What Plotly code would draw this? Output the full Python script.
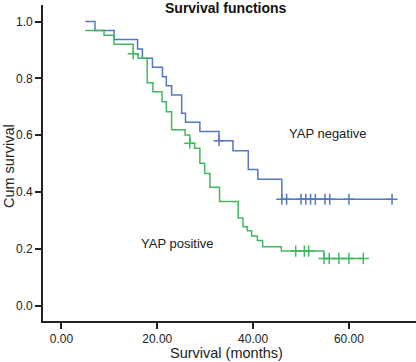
import plotly.graph_objects as go

# --- data ---
neg_times = [5.0, 7.0, 11.0, 15.9, 16.9, 19.0, 21.1, 21.9, 23.0, 25.1, 25.9, 28.9,
             32.9, 35.8, 39.0, 41.0, 46.0, 69.0]
neg_surv = [1.0, 0.968, 0.937, 0.903, 0.871, 0.839, 0.806, 0.774, 0.742, 0.677, 0.646, 0.613,
            0.581, 0.546, 0.480, 0.445, 0.375, 0.375]
neg_censor = [32.9, 46.0, 47.0, 50.0, 51.0, 52.0, 53.0, 55.0, 56.0, 60.0, 69.0]

pos_times = [5.0, 8.9, 11.0, 15.0, 16.0, 17.9, 19.1, 21.0, 21.9, 23.0, 25.8, 26.8, 27.8,
             28.9, 29.9, 31.0, 33.0, 36.9, 37.9, 38.8, 39.7, 40.9, 42.0, 45.9, 54.8, 63.0]
pos_surv = [0.968, 0.952, 0.920, 0.887, 0.871, 0.785, 0.753, 0.718, 0.683, 0.619, 0.601, 0.572,
            0.554, 0.502, 0.466, 0.417, 0.367, 0.309, 0.278, 0.264, 0.246, 0.230, 0.208,
            0.193, 0.167, 0.167]
pos_censor = [15.0, 26.8, 48.9, 50.7, 51.6, 54.8, 55.9, 57.9, 60.0, 63.0]

x_ticks = [0, 20, 40, 60]
x_tick_labels = ["0.00", "20.00", "40.00", "60.00"]
y_ticks = [0.0, 0.2, 0.4, 0.6, 0.8, 1.0]
y_tick_labels = ["0.0", "0.2", "0.4", "0.6", "0.8", "1.0"]

BLUE = "#5577c0"
GREEN = "#40b862"
FONT = "Liberation Sans, Arial, Helvetica, sans-serif"


def step_value(times, surv, t):
    v = surv[0]
    for ti, si in zip(times, surv):
        if ti <= t + 1e-9:
            v = si
    return v


fig = go.Figure()
for times, surv, cens, col in [(neg_times, neg_surv, neg_censor, BLUE),
                               (pos_times, pos_surv, pos_censor, GREEN)]:
    fig.add_trace(go.Scatter(x=times, y=surv, mode="lines", line_shape="hv",
                             line=dict(color=col, width=1.5), showlegend=False,
                             hoverinfo="skip"))
    fig.add_trace(go.Scatter(x=cens, y=[step_value(times, surv, c) for c in cens],
                             mode="markers",
                             marker=dict(symbol="cross-thin", size=8,
                                         line=dict(color=col, width=1.5)),
                             showlegend=False, hoverinfo="skip"))

axis_common = dict(showline=True, linecolor="#222", linewidth=1.6, ticks="outside",
                   ticklen=6, tickwidth=1.5, tickcolor="#222", showgrid=False,
                   zeroline=False, tickfont=dict(family=FONT, size=12, color="#222"))

fig.update_layout(
    width=416, height=362,
    margin=dict(l=43, r=0, t=5, b=41),
    paper_bgcolor="white", plot_bgcolor="white",
    xaxis=dict(range=[-3.84, 74], tickvals=x_ticks, ticktext=x_tick_labels, **axis_common),
    yaxis=dict(range=[-0.053, 1.058], tickvals=y_ticks, ticktext=y_tick_labels, **axis_common),
    annotations=[
        dict(text="<b>Survival functions</b>", xref="paper", yref="paper", x=0.4914, y=0.9896,
             xanchor="center", yanchor="middle", showarrow=False,
             font=dict(family=FONT, size=14, color="#111")),
        dict(text="Survival (months)", xref="paper", yref="paper", x=0.4925, y=-0.101,
             xanchor="center", yanchor="middle", showarrow=False,
             font=dict(family=FONT, size=14.5, color="#222")),
        dict(text="Cum survival", xref="paper", yref="paper", x=-0.0925, y=0.492,
             xanchor="center", yanchor="middle", textangle=-90, showarrow=False,
             font=dict(family=FONT, size=14.5, color="#222")),
        dict(text="YAP negative", x=47.1, y=0.607, xanchor="left", yanchor="middle",
             showarrow=False, font=dict(family=FONT, size=13, color="#222")),
        dict(text="YAP positive", x=16.2, y=0.218, xanchor="left", yanchor="middle",
             showarrow=False, font=dict(family=FONT, size=13, color="#222")),
    ],
)

fig.write_html("out.html",
               config={"displayModeBar": False},
               post_script="document.body.style.margin='0px';document.body.style.overflow='hidden';")
